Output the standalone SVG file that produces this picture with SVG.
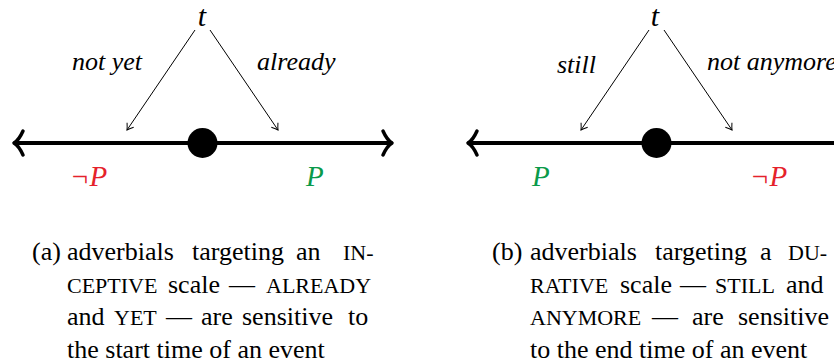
<svg xmlns="http://www.w3.org/2000/svg" width="834" height="362" viewBox="0 0 834 362">
<defs>
<style>
.axis{stroke:#000;stroke-width:4;fill:none;stroke-linecap:round}
.tip{stroke:#000;stroke-width:3.5;fill:none;stroke-linecap:round;stroke-linejoin:round}
.thin{stroke:#000;stroke-width:1;fill:none}
</style>
<marker id="hd" markerUnits="userSpaceOnUse" markerWidth="14" markerHeight="14" viewBox="-8 -7 10 14" refX="0" refY="0" orient="auto">
<path d="M-6,-4 Q-2,-1 0,0 Q-2,1 -6,4" stroke="#000" stroke-width="1" fill="none"/>
</marker>
</defs>
<rect width="834" height="362" fill="#fff"/>

<g id="connectors">
<line class="thin" x1="195" y1="30" x2="127" y2="130" marker-end="url(#hd)"/>
<line class="thin" x1="210" y1="30" x2="278" y2="130" marker-end="url(#hd)"/>
<line class="thin" x1="649" y1="30" x2="581" y2="130" marker-end="url(#hd)"/>
<line class="thin" x1="664" y1="30" x2="732" y2="130" marker-end="url(#hd)"/>
</g>

<g font-family="Liberation Serif, Times New Roman, DejaVu Serif, serif" font-style="italic" font-size="26" fill="#000">
<g id="axis-a">
<line class="axis" x1="15" y1="143" x2="391" y2="143"/>
<path class="tip" d="M23,131 Q19,140 14,143 Q19,146 23,155"/>
<path class="tip" d="M383,131 Q387,140 392,143 Q387,146 383,155"/>
</g>
<g id="dot-a"><circle cx="202.5" cy="143" r="15" fill="#000"/></g>
<g id="t-a"><text x="202" y="26" font-size="30" text-anchor="middle">t</text></g>
<g id="label-notyet"><text x="72" y="70">not yet</text></g>
<g id="label-already"><text x="257" y="70">already</text></g>
<g id="negP-a"><text x="70" y="186" font-size="29" fill="#e5222b">¬P</text></g>
<g id="P-a"><text x="306" y="186" font-size="29" fill="#0a9a4a">P</text></g>

<g id="axis-b">
<line class="axis" x1="469" y1="143" x2="845" y2="143"/>
<path class="tip" d="M477,131 Q473,140 468,143 Q473,146 477,155"/>
<path class="tip" d="M837,131 Q841,140 846,143 Q841,146 837,155"/>
</g>
<g id="dot-b"><circle cx="656.5" cy="143" r="15" fill="#000"/></g>
<g id="t-b"><text x="655" y="26" font-size="30" text-anchor="middle">t</text></g>
<g id="label-still"><text x="557" y="73">still</text></g>
<g id="label-notanymore"><text x="707" y="70">not anymore</text></g>
<g id="P-b"><text x="532" y="186" font-size="29" fill="#0a9a4a">P</text></g>
<g id="negP-b"><text x="750" y="186" font-size="29" fill="#e5222b">¬P</text></g>
</g>

<g id="caption-a" font-family="Liberation Serif, Times New Roman, DejaVu Serif, serif" font-size="26" fill="#000">
<text x="32" y="260">(a)</text>
<text y="260"><tspan x="67">adverbials</tspan><tspan x="192">targeting</tspan><tspan x="296">an</tspan><tspan x="343" font-size="22">IN-</tspan></text>
<text y="292.5"><tspan x="67" font-size="22">CEPTIVE</tspan><tspan x="168">scale</tspan><tspan x="229">—</tspan><tspan x="266" font-size="22">ALREADY</tspan></text>
<text y="325"><tspan x="67">and</tspan><tspan x="114" font-size="22">YET</tspan><tspan x="166">—</tspan><tspan x="201">are</tspan><tspan x="242">sensitive</tspan><tspan x="348">to</tspan></text>
<text x="67" y="357.5">the start time of an event</text>
</g>

<g id="caption-b" font-family="Liberation Serif, Times New Roman, DejaVu Serif, serif" font-size="26" fill="#000">
<text x="492" y="260">(b)</text>
<text y="260"><tspan x="530">adverbials</tspan><tspan x="655">targeting</tspan><tspan x="760">a</tspan><tspan x="788" font-size="22">DU-</tspan></text>
<text y="292.5"><tspan x="530" font-size="22">RATIVE</tspan><tspan x="620">scale</tspan><tspan x="680">—</tspan><tspan x="715" font-size="22">STILL</tspan><tspan x="786">and</tspan></text>
<text y="325"><tspan x="530" font-size="22">ANYMORE</tspan><tspan x="652">—</tspan><tspan x="692">are</tspan><tspan x="738">sensitive</tspan></text>
<text x="530" y="357.5">to the end time of an event</text>
</g>
</svg>
